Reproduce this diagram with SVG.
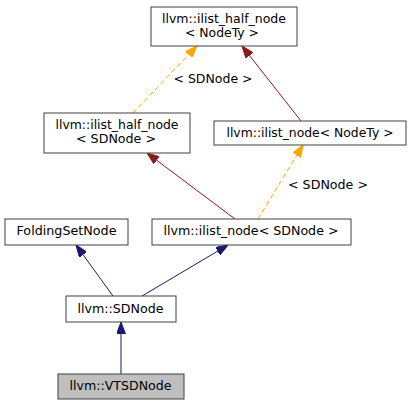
<svg xmlns="http://www.w3.org/2000/svg" width="412" height="405" viewBox="0 0 412 405">
<style>
.box{fill:#ffffff;stroke:#404040;stroke-width:1}
.cur{fill:#bfbfbf;stroke:#404040;stroke-width:1}
text{font-family:"DejaVu Sans","Liberation Sans",sans-serif;font-size:11.7px;fill:#000000;text-anchor:middle}
.inh{stroke:#191970;stroke-width:1;fill:none;marker-end:url(#aBlue)}
.pri{stroke:#8b1a1a;stroke-width:1;fill:none;marker-end:url(#aRed)}
.tpl{stroke:#ffa500;stroke-width:1;fill:none;stroke-dasharray:5,3;marker-end:url(#aOrange)}
</style>
<defs>
<marker id="aBlue" markerUnits="userSpaceOnUse" viewBox="0 0 12 9" refX="12" refY="4.5" markerWidth="12" markerHeight="9" orient="auto"><path d="M0,0 L12,4.5 L0,9 z" fill="#191970" stroke="#191970"/></marker>
<marker id="aRed" markerUnits="userSpaceOnUse" viewBox="0 0 12 9" refX="12" refY="4.5" markerWidth="12" markerHeight="9" orient="auto"><path d="M0,0 L12,4.5 L0,9 z" fill="#8b1a1a" stroke="#8b1a1a"/></marker>
<marker id="aOrange" markerUnits="userSpaceOnUse" viewBox="0 0 12 9" refX="12" refY="4.5" markerWidth="12" markerHeight="9" orient="auto"><path d="M0,0 L12,4.5 L0,9 z" fill="#ffa500" stroke="#ffa500"/></marker>
</defs>
<rect width="412" height="405" fill="#ffffff"/>
<g id="connectors">
<path class="tpl" d="M133,113 L197,46"/>
<text x="213" y="83" textLength="79" lengthAdjust="spacingAndGlyphs">&lt; SDNode &gt;</text>
<path class="pri" d="M301,121 L242,46"/>
<path class="pri" d="M235,219 L147,153"/>
<path class="tpl" d="M258,219 L303,145"/>
<text x="328" y="189" textLength="80" lengthAdjust="spacingAndGlyphs">&lt; SDNode &gt;</text>
<path class="inh" d="M113,296 L76,245"/>
<path class="inh" d="M142,296 L228,245"/>
<path class="inh" d="M121,374 L121,322"/>
</g>
<g id="ilist_half_node_NodeTy">
<rect class="box" x="151" y="7" width="146" height="39"/>
<text x="224" y="23" textLength="124" lengthAdjust="spacingAndGlyphs">llvm::ilist_half_node</text>
<text x="222" y="37" textLength="74" lengthAdjust="spacingAndGlyphs">&lt; NodeTy &gt;</text>
</g>
<g id="ilist_half_node_SDNode">
<rect class="box" x="44" y="113" width="146" height="40"/>
<text x="117" y="129" textLength="123" lengthAdjust="spacingAndGlyphs">llvm::ilist_half_node</text>
<text x="116" y="143" textLength="80" lengthAdjust="spacingAndGlyphs">&lt; SDNode &gt;</text>
</g>
<g id="ilist_node_NodeTy">
<rect class="box" x="214" y="121" width="192" height="24"/>
<text x="310" y="137" textLength="167" lengthAdjust="spacingAndGlyphs">llvm::ilist_node&lt; NodeTy &gt;</text>
</g>
<g id="FoldingSetNode">
<rect class="box" x="5" y="219" width="123" height="26"/>
<text x="66.5" y="235" textLength="100" lengthAdjust="spacingAndGlyphs">FoldingSetNode</text>
</g>
<g id="ilist_node_SDNode">
<rect class="box" x="152" y="219" width="199" height="26"/>
<text x="251" y="235" textLength="175" lengthAdjust="spacingAndGlyphs">llvm::ilist_node&lt; SDNode &gt;</text>
</g>
<g id="SDNode">
<rect class="box" x="66" y="296" width="110" height="26"/>
<text x="120.5" y="313" textLength="86" lengthAdjust="spacingAndGlyphs">llvm::SDNode</text>
</g>
<g id="VTSDNode">
<rect class="cur" x="58" y="374" width="126" height="25"/>
<text x="120.5" y="390" textLength="102" lengthAdjust="spacingAndGlyphs">llvm::VTSDNode</text>
</g>
</svg>
